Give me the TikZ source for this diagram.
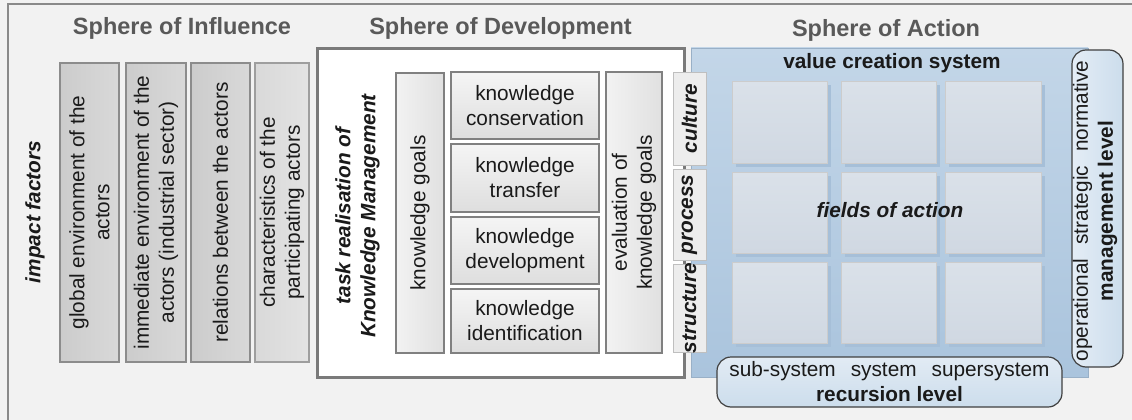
\documentclass[tikz,border=0pt]{standalone}
\usepackage{fontspec}
\setmainfont{Liberation Sans}
\usetikzlibrary{shadings}
\definecolor{bgcol}{HTML}{F2F2F2}
\definecolor{framecol}{HTML}{8A8A8A}
\definecolor{titlecol}{HTML}{595959}
\definecolor{txtcol}{HTML}{1A1A1A}
\definecolor{boxline}{HTML}{8C8C8C}
\definecolor{bluetop}{HTML}{C3D6E8}
\definecolor{bluebot}{HTML}{AAC4DD}
\definecolor{cellshadow}{HTML}{A6BFD8}
\begin{document}
\begin{tikzpicture}[x=1pt,y=-1pt,
  every node/.style={inner sep=0pt, outer sep=0pt, text=txtcol},
  bodyfont/.style={font=\fontsize{20.8}{25}\selectfont},
  titlefont/.style={font=\fontsize{23.5}{28}\selectfont\bfseries, text=titlecol},
  influencebox/.style={draw=boxline, line width=1.6pt, left color=black!20, right color=black!15},
  lightinfluencebox/.style={draw=black!38, line width=1.2pt, left color=black!15, right color=black!11},
  devframe/.style={draw=black!52, line width=3pt, fill=white},
  taskbox/.style={draw=black!50, line width=2pt, top color=black!4, bottom color=black!13},
  vtaskbox/.style={draw=black!50, line width=2pt, left color=black!5, right color=black!12},
  tabbox/.style={draw=black!25, line width=0.8pt, fill=black!7},
  actionarea/.style={draw=bluebot!90!black, line width=0.6pt, top color=bluetop, bottom color=bluebot},
  cell/.style={draw=black!20, line width=0.8pt, top color={rgb,255:red,218;green,225;blue,233}, bottom color={rgb,255:red,208;green,216;blue,226}},
  levelbox/.style={draw=black!75, line width=1.2pt, rounded corners=14pt},
  vlabel/.style={bodyfont, rotate=90, align=center},
]
\useasboundingbox (0,0) rectangle (1132,420);
% page background and frame
\fill[bgcol] (0,0) rectangle (1132,420);
\draw[framecol, line width=2pt] (8,420) -- (8,4) -- (1132,4);

% sphere titles
\node[titlefont, anchor=base] (tInf) at (182,35) {Sphere of Influence};
\node[titlefont, anchor=base] (tDev) at (500.5,35) {Sphere of Development};
\node[titlefont, anchor=base] (tAct) at (886,37) {Sphere of Action};

% sphere of influence
\node[vlabel, font=\fontsize{20.8}{25}\selectfont\bfseries\itshape] (impact) at (35,212) {impact factors};
\node[influencebox, minimum width=59, minimum height=299] (b1) at (89.5,212.5) {};
\node[influencebox, minimum width=60, minimum height=299] (b2) at (156,212.5) {};
\node[influencebox, minimum width=59, minimum height=299] (b3) at (220.5,212.5) {};
\node[lightinfluencebox, minimum width=54, minimum height=299] (b4) at (282,212.5) {};
\node[vlabel] (l1) at (b1.center) {global environment of the\\actors};
\node[vlabel] (l2) at (b2.center) {immediate environment of the\\actors (industrial sector)};
\node[vlabel] (l3) at (b3.center) {relations between the actors};
\node[vlabel] (l4) at (b4.center) {characteristics of the\\participating actors};

% sphere of development
\node[devframe, minimum width=367, minimum height=328] (dev) at (500.5,213) {};
\node[vlabel, font=\fontsize{20.8}{25}\selectfont\bfseries\itshape] (task) at (357.5,216) {task realisation of\\Knowledge Management};
\node[vtaskbox, minimum width=48, minimum height=280] (kg) at (420,213) {};
\node[vlabel] (kgl) at (kg.center) {knowledge goals};
\node[taskbox, bodyfont, align=center, minimum width=148, minimum height=67] (kc) at (525,105.5) {knowledge\\conservation};
\node[taskbox, bodyfont, align=center, minimum width=148, minimum height=68] (kt) at (525,178) {knowledge\\transfer};
\node[taskbox, bodyfont, align=center, minimum width=148, minimum height=67] (kd) at (525,250.5) {knowledge\\development};
\node[taskbox, bodyfont, align=center, minimum width=148, minimum height=64] (ki) at (525,321) {knowledge\\identification};
\node[vtaskbox, minimum width=56, minimum height=281] (ev) at (634,212.5) {};
\node[vlabel] (evl) at (ev.center) {evaluation of\\knowledge goals};

% sphere of action
\node[actionarea, minimum width=397, minimum height=329] (act) at (889.5,212.5) {};
\node[bodyfont, font=\fontsize{20.8}{25}\selectfont\bfseries] (vcs) at (892,63) {value creation system};
\foreach \cx/\w [count=\i] in {779.5/95, 888.5/95, 993/96}{
  \foreach \cy/\h [count=\j] in {122/82, 212.5/81, 302.5/81}{
    \fill[cellshadow] (\cx-\w/2+4,\cy-\h/2+4) rectangle (\cx+\w/2+4,\cy+\h/2+4);
    \node[cell, minimum width=\w, minimum height=\h] (c\i\j) at (\cx,\cy) {};
  }
}
\node[font=\fontsize{20.8}{25}\selectfont\bfseries\itshape] (fields) at (890,210) {fields of action};

% dimension tabs between development and action
\node[tabbox, minimum width=33, minimum height=93] (culture) at (689.5,118.5) {};
\node[tabbox, minimum width=33, minimum height=91] (process) at (689.5,214.5) {};
\node[tabbox, minimum width=33, minimum height=88] (structure) at (689.5,308) {};
\node[vlabel, font=\fontsize{20.8}{25}\selectfont\bfseries\itshape] (culturel) at (culture.center) {culture};
\node[vlabel, font=\fontsize{20.8}{25}\selectfont\bfseries\itshape] (processl) at (process.center) {process};
\node[vlabel, font=\fontsize{20.8}{25}\selectfont\bfseries\itshape] (structurel) at (structure.center) {structure};

% management and recursion levels
\node[levelbox, left color={rgb,255:red,228;green,237;blue,246}, right color={rgb,255:red,204;green,221;blue,236}, minimum width=51, minimum height=317] (mgmt) at (1097.5,208.5) {};
\node[vlabel] (mgmtl) at (1095,211) {operational\hspace{14pt}strategic\hspace{14pt}normative\\\textbf{management level}};
\node[levelbox, top color={rgb,255:red,226;green,235;blue,244}, bottom color={rgb,255:red,204;green,221;blue,236}, minimum width=345, minimum height=50] (rec) at (889.5,382) {};
\node[bodyfont, align=center] (recl) at (889.5,382) {sub-system\hspace{15pt}system\hspace{15pt}supersystem\\\textbf{recursion level}};
\end{tikzpicture}
\end{document}
